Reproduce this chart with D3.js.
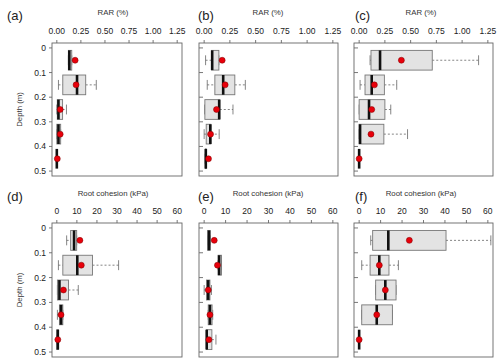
<!DOCTYPE html>
<html>
<head>
<meta charset="utf-8">
<script src="https://cdn.jsdelivr.net/npm/d3@7/dist/d3.min.js"></script>
<style>
body { margin: 0; background: #fff; }
svg { display: block; font-family: "Liberation Sans", Arial, sans-serif; }
</style>
</head>
<body>
<svg width="500" height="362"></svg>
<script>
const depths = [0.05, 0.15, 0.25, 0.35, 0.45];
const depthTicks = [0, 0.1, 0.2, 0.3, 0.4, 0.5];
const depthTickLabels = ['0', '0.1', '0.2', '0.3', '0.4', '0.5'];
const rarTicks = [0, 0.25, 0.5, 0.75, 1, 1.25];
const cohTicks = [0, 10, 20, 30, 40, 50, 60];

// one row per depth: [whisker low, q1, median, q3, whisker high, mean]
const rarA = [
    [0.12, 0.12, 0.13, 0.155, 0.155, 0.19],
    [0.017, 0.062, 0.21, 0.30, 0.41, 0.20],
    [0.0, 0.005, 0.017, 0.06, 0.10, 0.035],
    [0.0, 0.0, 0.017, 0.04, 0.04, 0.035],
    [0.0, 0.0, 0.0, 0.0, 0.0, 0.005]
];
const rarB = [
    [0.014, 0.072, 0.078, 0.143, 0.143, 0.175],
    [0.03, 0.104, 0.185, 0.298, 0.40, 0.204],
    [0.005, 0.007, 0.146, 0.152, 0.28, 0.12],
    [0.0, 0.02, 0.06, 0.065, 0.146, 0.062],
    [0.01, 0.012, 0.016, 0.02, 0.02, 0.042]
];
const rarC = [
    [0.106, 0.115, 0.203, 0.71, 1.16, 0.41],
    [0.009, 0.057, 0.122, 0.245, 0.365, 0.148],
    [0.0, 0.0, 0.096, 0.25, 0.307, 0.122],
    [0.0, 0.0, 0.009, 0.24, 0.47, 0.115],
    [0.0, 0.0, 0.0, 0.0, 0.0, 0.0]
];
const cohD = [
    [4.9, 6.9, 8.6, 9.9, 9.9, 11.5],
    [0.8, 3.0, 10.2, 17.8, 30.8, 12.2],
    [0.3, 0.3, 1.3, 5.8, 10.7, 3.3],
    [0.3, 1.3, 2.1, 3.0, 3.0, 2.1],
    [0.0, 0.0, 0.5, 0.8, 0.8, 0.5]
];
const cohE = [
    [1.6, 1.6, 2.3, 2.8, 2.8, 4.7],
    [6.5, 6.5, 7.0, 8.1, 8.1, 6.2],
    [0.0, 1.1, 1.9, 2.7, 3.4, 1.9],
    [1.9, 1.9, 2.7, 3.7, 4.0, 2.7],
    [1.1, 1.1, 1.2, 3.6, 5.5, 2.2]
];
const cohF = [
    [5.4, 6.3, 13.6, 40.5, 61.4, 23.4],
    [1.2, 5.1, 9.4, 13.9, 18.3, 9.4],
    [7.7, 7.7, 12.2, 17.2, 17.2, 12.2],
    [1.2, 1.2, 8.2, 15.5, 15.5, 8.2],
    [0.0, 0.0, 0.0, 0.0, 0.0, 0.0]
];

const svg = d3.select('svg');

const cols = [
    {x0: 52, x1: 182, titleX: 113, labelX: 7, yLabels: true},
    {x0: 199, x1: 338, titleX: 268, labelX: 198, yLabels: false},
    {x0: 354, x1: 493, titleX: 421, labelX: 355, yLabels: false}
];
const rows = [
    {y0: 43, y1: 176, titleY: 15, tickY: 34, title: 'RAR (%)', ticks: rarTicks,
     domain: [-0.05, 1.30], fmt: d3.format('.2f'), data: [rarA, rarB, rarC], labels: ['(a)', '(b)', '(c)']},
    {y0: 223, y1: 357, titleY: 196, tickY: 214, title: 'Root cohesion (kPa)', ticks: cohTicks,
     domain: [-2.4, 62.4], fmt: d3.format('d'), data: [cohD, cohE, cohF], labels: ['(d)', '(e)', '(f)']}
];

const boxHalf = 0.04;
const stapleHalf = 0.02;

rows.forEach(function(row) {
    cols.forEach(function(col, ci) {
        const x = d3.scaleLinear().domain(row.domain).range([col.x0, col.x1]);
        const y = d3.scaleLinear().domain([-0.02, 0.52]).range([row.y0, row.y1]);
        const g = svg.append('g');

        // panel label and title
        g.append('text')
         .attr('x', col.labelX)
         .attr('y', row.titleY + 5)
         .attr('font-size', 13)
         .attr('fill', '#222')
         .text(row.labels[ci]);
        g.append('text')
         .attr('x', col.titleX)
         .attr('y', row.titleY)
         .attr('text-anchor', 'middle')
         .attr('font-size', 7.8)
         .attr('fill', '#333')
         .text(row.title);

        // top axis
        const xAxis = g.append('g');
        xAxis.selectAll('line')
             .data(row.ticks)
             .join('line')
             .attr('x1', d => x(d)).attr('x2', d => x(d))
             .attr('y1', row.y0 - 3).attr('y2', row.y0)
             .attr('stroke', '#555').attr('stroke-width', 0.8);
        xAxis.selectAll('text')
             .data(row.ticks)
             .join('text')
             .attr('x', d => x(d))
             .attr('y', row.tickY)
             .attr('text-anchor', 'middle')
             .attr('font-size', 8.5)
             .attr('fill', '#222')
             .text(d => row.fmt(d));

        // left axis
        const yAxis = g.append('g');
        yAxis.selectAll('line')
             .data(depthTicks)
             .join('line')
             .attr('x1', col.yLabels ? col.x0 - 3 : col.x0)
             .attr('x2', col.yLabels ? col.x0 : col.x0 + 4)
             .attr('y1', d => y(d)).attr('y2', d => y(d))
             .attr('stroke', '#555').attr('stroke-width', 0.8);
        if (col.yLabels) {
            yAxis.selectAll('text')
                 .data(depthTicks)
                 .join('text')
                 .attr('x', col.x0 - 6)
                 .attr('y', d => y(d) + 3)
                 .attr('text-anchor', 'end')
                 .attr('font-size', 8.5)
                 .attr('fill', '#222')
                 .text((d, i) => depthTickLabels[i]);
            g.append('text')
             .attr('transform', 'translate(22,' + ((row.y0 + row.y1) / 2) + ') rotate(-90)')
             .attr('text-anchor', 'middle')
             .attr('font-size', 7.8)
             .attr('fill', '#333')
             .text('Depth (m)');
        }

        // boxes
        const data = row.data[ci].map(function(d, i) {
            return {depth: depths[i], lo: d[0], q1: d[1], med: d[2], q3: d[3], hi: d[4], mean: d[5]};
        });
        const box = g.selectAll('g.box')
                     .data(data)
                     .join('g')
                     .attr('class', 'box');

        // whiskers
        box.append('line')
           .attr('x1', d => x(d.lo)).attr('x2', d => x(d.q1))
           .attr('y1', d => y(d.depth)).attr('y2', d => y(d.depth))
           .attr('stroke', '#666').attr('stroke-width', 0.8)
           .attr('stroke-dasharray', '2,2')
           .attr('display', d => d.q1 > d.lo ? null : 'none');
        box.append('line')
           .attr('x1', d => x(d.q3)).attr('x2', d => x(d.hi))
           .attr('y1', d => y(d.depth)).attr('y2', d => y(d.depth))
           .attr('stroke', '#666').attr('stroke-width', 0.8)
           .attr('stroke-dasharray', '2,2')
           .attr('display', d => d.hi > d.q3 ? null : 'none');
        // staples
        box.selectAll('line.staple')
           .data(d => [d.lo, d.hi].map(v => ({v: v, depth: d.depth})))
           .join('line')
           .attr('class', 'staple')
           .attr('x1', d => x(d.v)).attr('x2', d => x(d.v))
           .attr('y1', d => y(d.depth - stapleHalf)).attr('y2', d => y(d.depth + stapleHalf))
           .attr('stroke', '#666').attr('stroke-width', 0.8);

        box.append('rect')
           .attr('x', d => x(d.q1))
           .attr('y', d => y(d.depth - boxHalf))
           .attr('width', d => x(d.q3) - x(d.q1))
           .attr('height', d => y(d.depth + boxHalf) - y(d.depth - boxHalf))
           .attr('fill', '#e3e3e3')
           .attr('stroke', '#777')
           .attr('stroke-width', 0.9);

        box.append('line')
           .attr('x1', d => x(d.med)).attr('x2', d => x(d.med))
           .attr('y1', d => y(d.depth - boxHalf)).attr('y2', d => y(d.depth + boxHalf))
           .attr('stroke', '#111').attr('stroke-width', 2.6);

        box.append('circle')
           .attr('cx', d => x(d.mean))
           .attr('cy', d => y(d.depth))
           .attr('r', 3)
           .attr('fill', '#e8000b')
           .attr('stroke', '#7a0000')
           .attr('stroke-width', 0.5);

        // frame
        g.append('rect')
         .attr('x', col.x0).attr('y', row.y0)
         .attr('width', col.x1 - col.x0).attr('height', row.y1 - row.y0)
         .attr('fill', 'none')
         .attr('stroke', '#666')
         .attr('stroke-width', 0.9);
    });
});
</script>
</body>
</html>
